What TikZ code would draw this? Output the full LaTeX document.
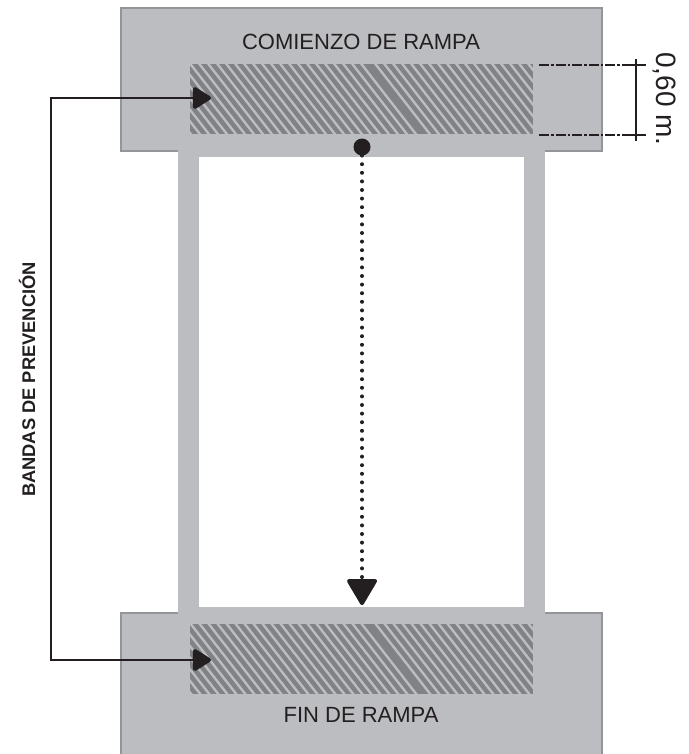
\documentclass[tikz,border=0pt]{standalone}
\usepackage{fontspec}
\setmainfont{Liberation Sans}
\usetikzlibrary{arrows.meta}
\definecolor{rampa}{HTML}{BCBDC0}
\definecolor{borde}{HTML}{939598}
\definecolor{banda}{HTML}{808285}
\definecolor{tinta}{HTML}{231F20}
\tikzset{
	bloque/.style={draw=borde,fill=rampa,line width=2pt,inner sep=0pt,outer sep=0pt,minimum width=481pt},
	franja/.style={fill=banda,inner sep=0pt,outer sep=0pt,minimum width=343pt,minimum height=70pt},
	flecha/.style={tinta,line width=2.4pt},
	punta/.tip={Triangle[round,line width=4pt,length=20pt,width=24pt]},
	cota/.style={tinta,line width=2pt},
	eje/.style={tinta,line width=1.7pt,dash pattern=on 10pt off 2pt on 2.5pt off 2pt}
}
\begin{document}
\begin{tikzpicture}[x=1pt,y=-1pt]
			\clip (0,0) rectangle (688,754);
			\fill[white] (0,0) rectangle (688,754);
			% bloques y corredor
			\node[bloque,minimum height=143pt] (inicio) at (361.5,80) {};
			\node[bloque,minimum height=147pt] (fin) at (361.5,686.5) {};
			\fill[rampa] (178,150) rectangle (545,616);
			\fill[white] (199,157) rectangle (524,607);
			% franjas de prevencion
			\node[franja] (bandaA) at (361.5,99.5) {};
			\node[franja] (bandaB) at (361.5,659) {};
			\foreach \n in {bandaA,bandaB} {
				\begin{scope}
					\clip (\n.north west) rectangle (\n.south east);
					\path (\n.north) ++(-171.5,0) coordinate (ini);
					\foreach \x in {-54,-45,...,172,185,194,...,344} {
						\draw[rampa,line width=2.4pt] (ini) ++(\x,-1) -- ++(56,72);
					}
				\end{scope}
			}
			% textos
			\node[font=\fontsize{22}{24}\selectfont,text=tinta] (comienzo) at (361,42) {COMIENZO DE RAMPA};
			\node[font=\fontsize{22}{24}\selectfont,text=tinta] (final) at (361,715) {FIN DE RAMPA};
			\node[font=\bfseries\fontsize{18.3}{20}\selectfont,text=tinta,rotate=90] (bandas) at (27,379.5) {BANDAS DE PREVENCIÓN};
			\node[font=\fontsize{28}{30}\selectfont,text=tinta,rotate=-90] (medida) at (664.5,99) {0,60 m.};
			% flechas
			\coordinate (codoA) at (51,98);
			\coordinate (codoB) at (51,660);
			\coordinate (puntaA) at (211,98);
			\coordinate (puntaB) at (211,660);
			\draw[flecha,punta-punta] (puntaA) -- (codoA) -- (codoB) -- (puntaB);
			\coordinate (salida) at (362,147);
			\coordinate (llegada) at (362,605);
			\fill[tinta] (salida) circle[radius=8.5];
			\draw[tinta,line width=4pt,line cap=round,dash pattern=on 0pt off 8.6pt] (salida) -- (llegada);
			\draw[tinta,line width=0pt,-{Triangle[round,line width=4pt,length=28pt,width=32pt]}] (362,576) -- (llegada);
			% cota
			\coordinate (ejeA) at (539,65);
			\coordinate (ejeB) at (539,135);
			\coordinate (marcaA) at (622,65);
			\coordinate (marcaB) at (622,135);
			\coordinate (finA) at (646,65);
			\coordinate (finB) at (646,135);
			\coordinate (cotaA) at (636,59);
			\coordinate (cotaB) at (636,141);
			\draw[eje] (ejeA) -- (marcaA);
			\draw[eje] (ejeB) -- (marcaB);
			\draw[cota] (marcaA) -- (finA);
			\draw[cota] (marcaB) -- (finB);
			\draw[cota] (cotaA) -- (cotaB);
\end{tikzpicture}
\end{document}
